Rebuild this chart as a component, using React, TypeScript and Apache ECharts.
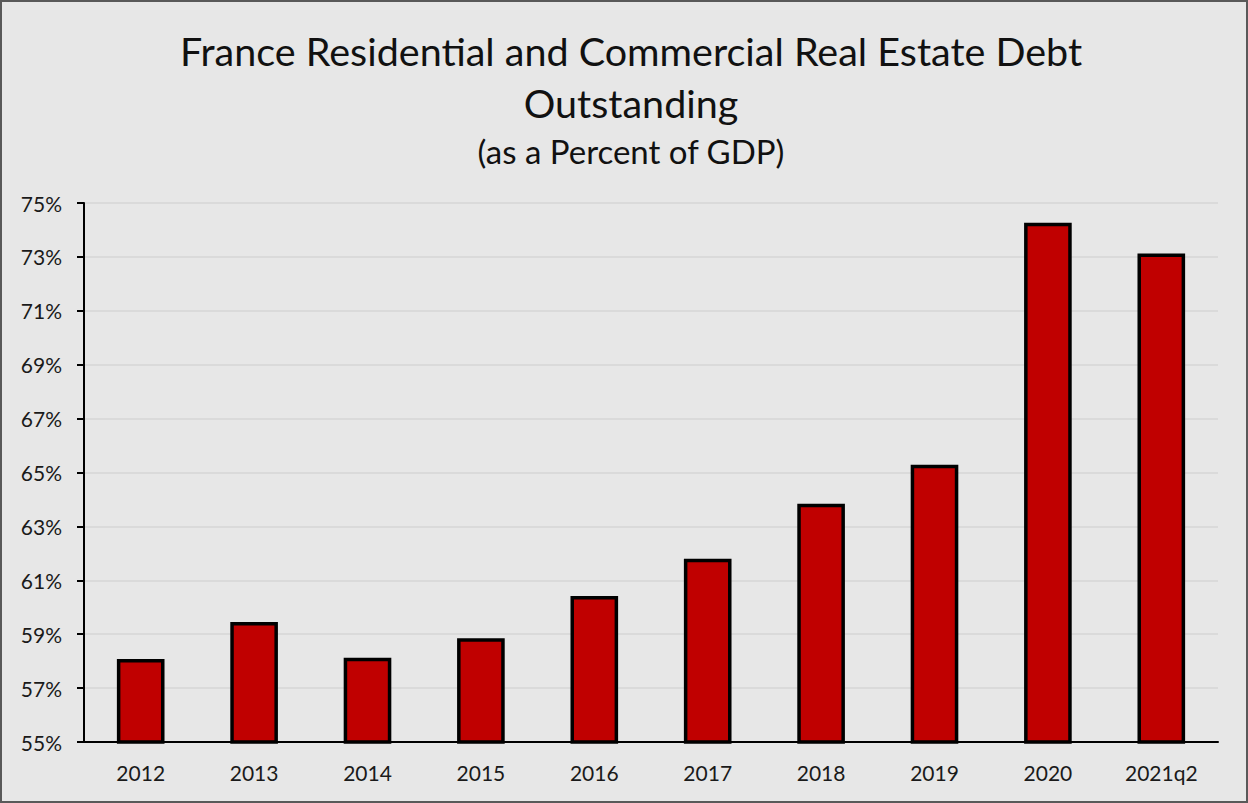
import React, { useEffect, useRef } from "react";
import * as echarts from "echarts";

const categories = ["2012", "2013", "2014", "2015", "2016", "2017", "2018", "2019", "2020", "2021q2"];
const debtPctGdp = [58.08, 59.45, 58.13, 58.85, 60.42, 61.8, 63.84, 65.29, 74.27, 73.13];
const yTicks = [55, 57, 59, 61, 63, 65, 67, 69, 71, 73, 75];

const FONT = "Lato";

export default function App() {
  const ref = useRef<HTMLDivElement>(null);
  useEffect(() => {
    document.body.style.margin = "0";
    const chart = echarts.init(ref.current!, undefined, { renderer: "svg" });
    chart.setOption({
      animation: false,
      backgroundColor: "#e7e7e7",
      title: [
        {
          text: "France Residential and Commercial Real Estate Debt\nOutstanding",
          left: 626,
          top: 19,
          textAlign: "center",
          textStyle: { fontFamily: FONT, fontSize: 39.5, fontWeight: "normal", color: "#111", lineHeight: 52 },
        },
        {
          text: "(as a Percent of GDP)",
          left: 626,
          top: 129,
          textAlign: "center",
          textStyle: { fontFamily: FONT, fontSize: 33, fontWeight: "normal", color: "#111" },
        },
      ],
      graphic: [
        {
          type: "rect",
          shape: { x: 1, y: 1, width: 1246, height: 801 },
          style: { fill: "none", stroke: "#595959", lineWidth: 2 },
          silent: true,
        },
      ],
      grid: { left: 84, right: 30, top: 203, bottom: 61, containLabel: false },
      xAxis: {
        type: "category",
        data: categories,
        axisLine: { lineStyle: { color: "#000", width: 2 } },
        axisTick: { show: false },
        axisLabel: { fontFamily: FONT, fontSize: 21, color: "#1a1a1a", margin: 20 },
      },
      yAxis: {
        type: "value",
        min: 55,
        max: 75,
        axisLine: { show: true, lineStyle: { color: "#000", width: 2 } },
        axisTick: { show: true, length: 7, customValues: yTicks, lineStyle: { color: "#000", width: 2 } },
        axisLabel: {
          customValues: yTicks,
          fontFamily: FONT,
          fontSize: 21,
          color: "#1a1a1a",
          margin: 22,
          formatter: (v: number) => `${v}%`,
        },
        splitLine: { show: true, lineStyle: { color: "#d6d6d6", width: 1.5 } },
      },
      series: [
        {
          type: "bar",
          data: debtPctGdp,
          barWidth: "42%",
          itemStyle: { color: "#c00000", borderColor: "#000", borderWidth: 3.5 },
        },
      ],
    });
    return () => chart.dispose();
  }, []);
  return <div ref={ref} style={{ width: 1248, height: 803 }} />;
}
